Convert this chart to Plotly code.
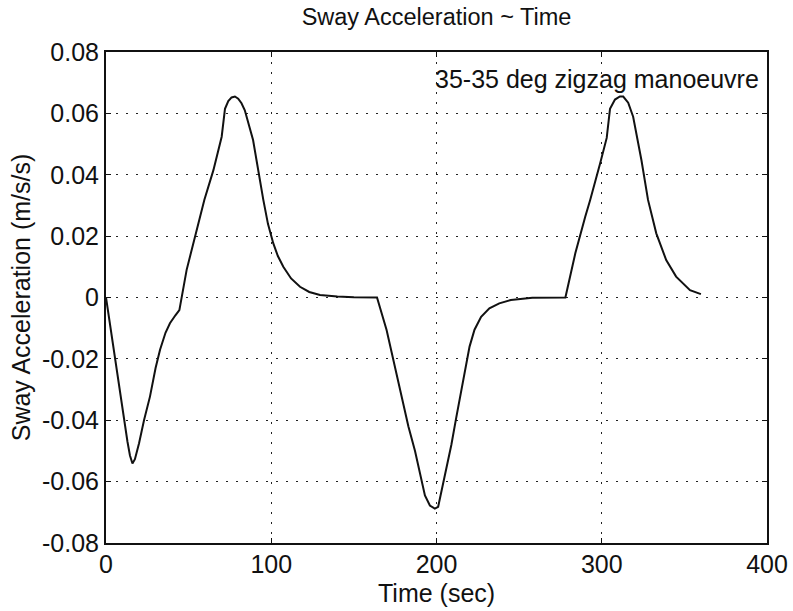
import plotly.graph_objects as go

# Time (sec)
time_s = [0, 5.4, 10, 13, 14.5, 16, 17.5, 20, 23, 26.6, 30, 32.7, 36, 38.7, 42, 44.4,
          48.8, 54.8, 59.5, 65, 70, 72, 74, 76, 78, 80, 82, 84, 89, 95.2, 98, 101.2,
          104, 107.3, 112, 117.4, 123, 129.5, 140, 150, 164, 169.8, 178, 183, 187, 190,
          193, 196, 199, 201, 204, 207, 209, 212, 216, 220, 223, 227, 232, 238, 245,
          258, 278, 284, 290, 293, 299, 303, 305, 308, 311, 313, 316, 319, 324, 328,
          333, 339, 345, 353.4, 360]
# Sway acceleration (m/s/s)
sway_acc = [0, -0.0198, -0.0365, -0.047, -0.0515, -0.0541, -0.0527, -0.0475, -0.040,
            -0.0323, -0.023, -0.017, -0.0115, -0.0084, -0.0058, -0.0041,
            0.009, 0.022, 0.0318, 0.0415, 0.0524, 0.0615, 0.064, 0.0652, 0.0655,
            0.0648, 0.0633, 0.061, 0.0513, 0.0318, 0.024, 0.0177,
            0.0135, 0.010, 0.0062, 0.0035, 0.0018, 0.0008, 0.0003, 0.0001, 0.0,
            -0.0106, -0.0305, -0.042, -0.050, -0.057,
            -0.0645, -0.0678, -0.0688, -0.0682, -0.0605, -0.052, -0.048, -0.039,
            -0.027, -0.016, -0.0105, -0.0063, -0.0035, -0.0019, -0.0008,
            -0.0001, 0.0, 0.0144, 0.0263, 0.0318, 0.0437, 0.052, 0.0615, 0.0645,
            0.0655, 0.0655, 0.0635, 0.0589, 0.0448, 0.0318,
            0.0209, 0.0122, 0.0068, 0.0024, 0.0011]

x_ticks = [0, 100, 200, 300, 400]
x_tick_text = ["0", "100", "200", "300", "400"]
y_ticks = [-0.08, -0.06, -0.04, -0.02, 0, 0.02, 0.04, 0.06, 0.08]
y_tick_text = ["-0.08", "-0.06", "-0.04", "-0.02", "0", "0.02", "0.04", "0.06", "0.08"]

title_text = "Sway Acceleration ~ Time"
x_title = "Time (sec)"
y_title = "Sway Acceleration (m/s/s)"
note_text = "35-35 deg zigzag manoeuvre"

FONT = "Liberation Sans, Arial, Helvetica, sans-serif"
INK = "#111111"

fig = go.Figure()
fig.add_trace(go.Scatter(x=time_s, y=sway_acc, mode="lines",
                         line=dict(color=INK, width=2), showlegend=False,
                         hoverinfo="skip"))

fig.add_annotation(x=198, y=0.0712, xref="x", yref="y", text=note_text,
                   showarrow=False, xanchor="left", yanchor="middle",
                   font=dict(family=FONT, size=25, color=INK))

# x-axis title placed just under the tick labels
fig.add_annotation(x=0.5, y=-0.102, xref="paper", yref="paper", text=x_title,
                   showarrow=False, xanchor="center", yanchor="middle",
                   font=dict(family=FONT, size=25, color=INK))

axis_common = dict(showline=True, linecolor=INK, linewidth=2, mirror="ticks",
                   ticks="inside", ticklen=5, tickcolor=INK, tickwidth=1,
                   showgrid=True, gridcolor="#222222", gridwidth=1,
                   griddash="2px,8px", zeroline=False,
                   tickfont=dict(family=FONT, size=25, color=INK))

fig.update_xaxes(range=[0, 400], tickvals=x_ticks, ticktext=x_tick_text,
                 ticklabelstandoff=-2, **axis_common)
fig.update_yaxes(range=[-0.08, 0.08], tickvals=y_ticks, ticktext=y_tick_text,
                 title=dict(text=y_title, font=dict(family=FONT, size=25, color=INK),
                            standoff=4),
                 **axis_common)

fig.update_layout(
    width=793, height=611,
    margin=dict(l=106, r=26, t=52, b=68, autoexpand=False),
    paper_bgcolor="white", plot_bgcolor="white",
    title=dict(text=title_text, x=0.5, xref="paper", xanchor="center",
               y=1, yref="container", yanchor="top", pad=dict(t=9),
               font=dict(family=FONT, size=23.5, color=INK)),
)

fig.write_html("out.html")
